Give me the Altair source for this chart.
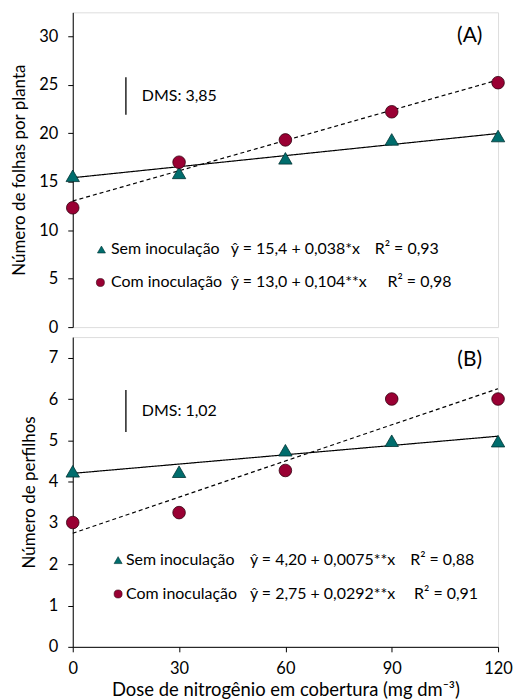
import altair as alt
import pandas as pd

FONT = "Lato"

doses = [0, 30, 60, 90, 120]

# Panel A: Número de folhas por planta
a_sem = [15.6, 15.9, 17.4, 19.35, 19.7]
a_com = [12.3, 17.0, 19.3, 22.2, 25.2]
a_sem_fit = [15.4, 19.96]
a_com_fit = [13.0, 25.48]
a_dms = [21.9, 25.75]

# Panel B: Número de perfilhos
b_sem = [4.25, 4.24, 4.76, 4.99, 4.98]
b_com = [3.01, 3.25, 4.27, 6.0, 6.0]
b_sem_fit = [4.20, 5.10]
b_com_fit = [2.75, 6.25]
b_dms = [5.2, 6.22]

fit_x = [0, 120]

TEAL = "#006d6d"
MAROON = "#990033"
FS = 16
W = 427


def panel(sem, com, sem_fit, com_fit, dms, ymax, yticks, ytitle, label, dms_text,
          leg_rows, height, show_x):
    pts = pd.DataFrame({"x": doses * 2, "y": sem + com,
                        "s": ["Sem"] * 5 + ["Com"] * 5})
    fits = pd.DataFrame({"x": fit_x * 2, "y": sem_fit + com_fit,
                         "s": ["Sem"] * 2 + ["Com"] * 2})
    xscale = alt.Scale(domain=[0, 120], nice=False, zero=False)
    yscale = alt.Scale(domain=[0, ymax], nice=False)
    if show_x:
        xaxis = alt.Axis(values=doses, title="Dose de nitrogênio em cobertura (mg dm⁻³)",
                         grid=False, tickSize=5, labelPadding=9, titlePadding=3,
                         labelFontSize=16.5, titleFontSize=18.5, labelFont=FONT,
                         titleFont=FONT, titleFontWeight="normal", tickColor="black",
                         domainColor="black", labelColor="black", titleColor="black",
                         labelFlush=False)
    else:
        xaxis = None
    yaxis = alt.Axis(values=yticks, title=ytitle, grid=False, tickSize=5,
                     labelPadding=10, titlePadding=10, labelFontSize=16.5,
                     titleFontSize=17, labelFont=FONT, titleFont=FONT,
                     titleFontWeight="normal", tickColor="black", domainColor="black",
                     labelColor="black", titleColor="black")
    X = alt.X("x:Q", scale=xscale, axis=xaxis)
    Y = alt.Y("y:Q", scale=yscale, axis=yaxis)

    lines = alt.Chart(fits).mark_line(color="black", strokeWidth=1.2).encode(
        x=X, y=Y,
        strokeDash=alt.StrokeDash("s:N", scale=alt.Scale(domain=["Sem", "Com"],
                                  range=[[1, 0], [4, 3]]), legend=None),
        detail="s:N")
    tri = alt.Chart(pts[pts.s == "Sem"]).mark_point(
        shape="triangle-up", filled=True, fill=TEAL, stroke="#003333",
        strokeWidth=0.8, size=180, opacity=1).encode(x=X, y=Y)
    cir = alt.Chart(pts[pts.s == "Com"]).mark_point(
        shape="circle", filled=True, fill=MAROON, stroke="#330010",
        strokeWidth=0.8, size=160, opacity=1).encode(x=X, y=Y)

    dms_df = pd.DataFrame({"x": [15], "y": [dms[0]], "y2": [dms[1]]})
    dms_rule = alt.Chart(dms_df).mark_rule(color="black", strokeWidth=1.3).encode(
        x=X, y=Y, y2="y2:Q")
    dms_lab = alt.Chart(pd.DataFrame({"x": [19.5], "y": [(dms[0] + dms[1]) / 2],
                                      "t": [dms_text]})).mark_text(
        align="left", baseline="middle", font=FONT, fontSize=FS, color="black"
    ).encode(x=X, y=Y, text="t:N")
    lab = alt.Chart(pd.DataFrame({"x": [112], "y": [ymax * 0.925], "t": [label]})).mark_text(
        align="center", baseline="middle", font=FONT, fontSize=21, color="black"
    ).encode(x=X, y=Y, text="t:N")

    layers = [lines, tri, cir, dms_rule, dms_lab, lab]
    for (mx, my, shape, col, stroke, tx, name, ex, eq, rx, r2) in leg_rows:
        layers.append(alt.Chart(pd.DataFrame({"x": [mx], "y": [my]})).mark_point(
            shape=shape, filled=True, fill=col, stroke=stroke, strokeWidth=0.6,
            size=65, opacity=1).encode(x=X, y=Y))
        tdf = pd.DataFrame({"x": [tx, ex, rx], "y": [my] * 3, "t": [name, eq, r2]})
        layers.append(alt.Chart(tdf).mark_text(
            align="left", baseline="middle", font=FONT, fontSize=FS, color="black"
        ).encode(x=X, y=Y, text="t:N"))

    return alt.layer(*layers).properties(width=W, height=height)


leg_a = [
    (8.1, 8.0, "triangle-up", TEAL, "#003333", 10.8, "Sem inoculação", 44.6,
     "ŷ = 15,4 + 0,038*x", 85.2, "R² = 0,93"),
    (7.8, 4.6, "circle", MAROON, "#330010", 10.8, "Com inoculação", 44.6,
     "ŷ = 13,0 + 0,104**x", 88.8, "R² = 0,98"),
]
leg_b = [
    (12.8, 2.1, "triangle-up", TEAL, "#003333", 15.0, "Sem inoculação", 50.0,
     "ŷ = 4,20 + 0,0075**x", 95.2, "R² = 0,88"),
    (12.8, 1.28, "circle", MAROON, "#330010", 15.0, "Com inoculação", 50.0,
     "ŷ = 2,75 + 0,0292**x", 96.3, "R² = 0,91"),
]

top = panel(a_sem, a_com, a_sem_fit, a_com_fit, a_dms, 32.45, [0, 5, 10, 15, 20, 25, 30],
            "Número de folhas por planta", "(A)", "DMS: 3,85", leg_a, 316, False)
bot = panel(b_sem, b_com, b_sem_fit, b_com_fit, b_dms, 7.5, [0, 1, 2, 3, 4, 5, 6, 7],
            "Número de perfilhos", "(B)", "DMS: 1,02", leg_b, 311, True)

chart = alt.vconcat(top, bot, spacing=0).properties(
    padding={"left": 2, "top": 2, "right": 0, "bottom": 0}
).configure_view(stroke="black", strokeWidth=1.5).configure(background="white")

chart.save("out.html", embed_options={"renderer": "svg", "actions": False})
